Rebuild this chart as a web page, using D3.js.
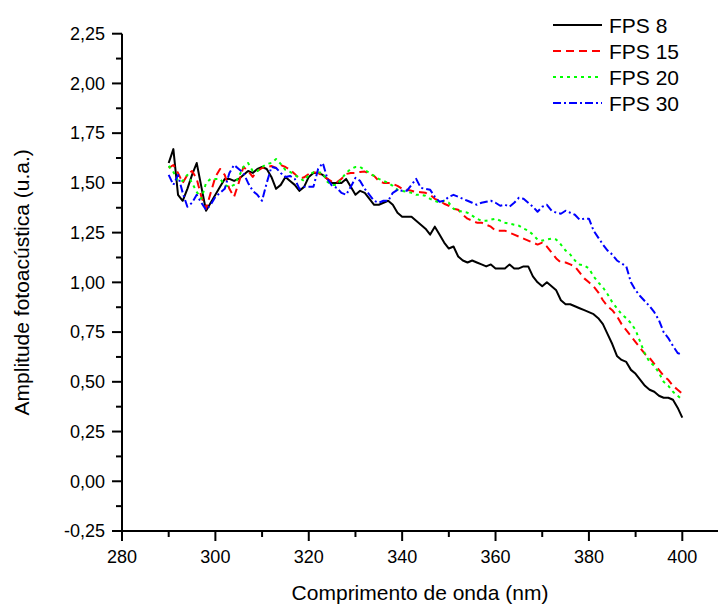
<!DOCTYPE html>
<html>
<head>
<meta charset="utf-8">
<script src="https://cdn.jsdelivr.net/npm/d3@7"></script>
<style>
  html, body { margin: 0; padding: 0; background: #fff; }
  svg { display: block; font-family: "Liberation Sans", Arial, sans-serif; }
</style>
</head>
<body>
<svg id="chart" width="718" height="608"></svg>
<script>
// wavelengths 290..400 nm, one value per nm
const wavelengths = d3.range(290, 401);

const fps8 = [
  1.60, 1.67, 1.44, 1.41, 1.47, 1.54, 1.60, 1.48, 1.36, 1.40,
  1.44, 1.48, 1.52, 1.52, 1.51, 1.52, 1.54, 1.56, 1.55, 1.57,
  1.58, 1.57, 1.53, 1.47, 1.49, 1.53, 1.51, 1.49, 1.46, 1.48,
  1.53, 1.55, 1.55, 1.54, 1.52, 1.50, 1.50, 1.50, 1.52, 1.48,
  1.44, 1.46, 1.45, 1.42, 1.39, 1.39, 1.40, 1.41, 1.39, 1.35,
  1.33, 1.33, 1.33, 1.31, 1.29, 1.27, 1.24, 1.28, 1.24, 1.20,
  1.17, 1.18, 1.13, 1.11, 1.10, 1.11, 1.10, 1.09, 1.08, 1.09,
  1.07, 1.07, 1.07, 1.09, 1.07, 1.07, 1.08, 1.08, 1.03, 1.00,
  0.98, 1.00, 0.98, 0.96, 0.91, 0.89, 0.89, 0.88, 0.87, 0.86,
  0.85, 0.84, 0.82, 0.79, 0.74, 0.69, 0.63, 0.61, 0.60, 0.56,
  0.54, 0.51, 0.48, 0.46, 0.45, 0.43, 0.42, 0.42, 0.41, 0.37,
  0.32
];

const fps15 = [
  1.575, 1.59, 1.55, 1.50, 1.54, 1.56, 1.52, 1.43, 1.37, 1.45,
  1.53, 1.57, 1.54, 1.47, 1.43, 1.50, 1.58, 1.56, 1.53, 1.56,
  1.575, 1.58, 1.585, 1.575, 1.59, 1.58, 1.565, 1.545, 1.52, 1.528,
  1.545, 1.553, 1.55, 1.535, 1.52, 1.505, 1.503, 1.52, 1.545, 1.55,
  1.55, 1.555, 1.557, 1.545, 1.535, 1.51, 1.50, 1.50, 1.495, 1.485,
  1.47, 1.465, 1.46, 1.455, 1.453, 1.45, 1.44, 1.42, 1.41, 1.395,
  1.385, 1.37, 1.365, 1.34, 1.32, 1.31, 1.30, 1.30, 1.29, 1.28,
  1.26, 1.26, 1.26, 1.25, 1.24, 1.23, 1.22, 1.21, 1.20, 1.19,
  1.20, 1.18, 1.15, 1.12, 1.10, 1.10, 1.09, 1.08, 1.05, 1.02,
  1.00, 0.98, 0.95, 0.91, 0.88, 0.86, 0.83, 0.79, 0.76, 0.73,
  0.70, 0.67, 0.64, 0.62, 0.59, 0.56, 0.53, 0.51, 0.48, 0.46,
  0.44
];

const fps20 = [
  1.585, 1.555, 1.51, 1.51, 1.54, 1.50, 1.455, 1.42, 1.50, 1.52,
  1.52, 1.52, 1.49, 1.48, 1.49, 1.53, 1.58, 1.60, 1.56, 1.56,
  1.58, 1.595, 1.60, 1.62, 1.595, 1.565, 1.555, 1.54, 1.525, 1.51,
  1.54, 1.553, 1.553, 1.55, 1.505, 1.49, 1.49, 1.52, 1.55, 1.57,
  1.58, 1.58, 1.565, 1.55, 1.535, 1.52, 1.51, 1.50, 1.485, 1.465,
  1.46, 1.455, 1.45, 1.44, 1.44, 1.435, 1.42, 1.41, 1.40, 1.41,
  1.40, 1.37, 1.36, 1.355, 1.35, 1.335, 1.32, 1.31, 1.31, 1.315,
  1.32, 1.31, 1.30, 1.295, 1.29, 1.285, 1.27, 1.26, 1.24, 1.215,
  1.21, 1.215, 1.22, 1.215, 1.19, 1.16, 1.14, 1.11, 1.09, 1.085,
  1.07, 1.03, 1.00, 0.975, 0.94, 0.90, 0.87, 0.84, 0.82, 0.795,
  0.76, 0.70, 0.64, 0.60, 0.58, 0.545, 0.50, 0.48, 0.45, 0.43,
  0.41
];

const fps30 = [
  1.54, 1.49, 1.54, 1.45, 1.38, 1.40, 1.44, 1.40, 1.365, 1.39,
  1.43, 1.45, 1.47, 1.55, 1.59, 1.57, 1.55, 1.50, 1.46, 1.44,
  1.41, 1.50, 1.58, 1.575, 1.55, 1.53, 1.535, 1.52, 1.47, 1.48,
  1.48, 1.48, 1.57, 1.60, 1.52, 1.485, 1.475, 1.45, 1.44, 1.48,
  1.525, 1.51, 1.47, 1.44, 1.41, 1.40, 1.41, 1.41, 1.45, 1.465,
  1.46, 1.46, 1.49, 1.52, 1.475, 1.47, 1.465, 1.43, 1.405, 1.41,
  1.43, 1.44, 1.43, 1.42, 1.41, 1.40, 1.39, 1.40, 1.405, 1.41,
  1.40, 1.385, 1.39, 1.38, 1.40, 1.425, 1.42, 1.40, 1.38, 1.355,
  1.38, 1.39, 1.36, 1.35, 1.345, 1.36, 1.35, 1.34, 1.315, 1.32,
  1.32, 1.26, 1.225, 1.19, 1.16, 1.14, 1.11, 1.095, 1.08, 1.00,
  0.96, 0.93, 0.905, 0.88, 0.85, 0.81, 0.75, 0.72, 0.68, 0.645,
  0.635
];

const seriesNames = ["FPS 8", "FPS 15", "FPS 20", "FPS 30"];
const seriesValues = [fps8, fps15, fps20, fps30];
const seriesColors = ["#000000", "#ff0000", "#00ff00", "#0000ff"];
const seriesDashes = [null, "8,5", "3,4", "8,3,2,3"];

const xMajorTicks = [280, 300, 320, 340, 360, 380, 400];
const xMinorTicks = [290, 310, 330, 350, 370, 390];
const yMajorTicks = [-0.25, 0, 0.25, 0.5, 0.75, 1, 1.25, 1.5, 1.75, 2, 2.25];
const yMinorTicks = [-0.125, 0.125, 0.375, 0.625, 0.875, 1.125, 1.375, 1.625, 1.875, 2.125];

const svg = d3.select("#chart");
const W = 718, H = 608;

const x = d3.scaleLinear().domain([280, 400]).range([122, 682.3]);
const y = d3.scaleLinear().domain([-0.25, 2.25]).range([531, 33.7]);
const fmt = v => d3.format(".2f")(v).replace(".", ",").replace("−", "-");

// eixo x
const gx = svg.append("g").attr("transform", `translate(0,${y(-0.25)})`);
gx.append("line")
  .attr("x1", x(280) - 1).attr("x2", W)
  .attr("stroke", "#000").attr("stroke-width", 2);
gx.selectAll("line.major").data(xMajorTicks).enter().append("line")
  .attr("x1", d => x(d)).attr("x2", d => x(d))
  .attr("y1", 0).attr("y2", 10)
  .attr("stroke", "#000").attr("stroke-width", 2);
gx.selectAll("line.minor").data(xMinorTicks).enter().append("line")
  .attr("x1", d => x(d)).attr("x2", d => x(d))
  .attr("y1", 0).attr("y2", 6)
  .attr("stroke", "#000").attr("stroke-width", 2);
gx.selectAll("text").data(xMajorTicks).enter().append("text")
  .attr("x", d => x(d)).attr("y", 32)
  .attr("text-anchor", "middle")
  .attr("font-size", 18)
  .text(d => d);

// eixo y
const gy = svg.append("g").attr("transform", `translate(${x(280)},0)`);
gy.append("line")
  .attr("y1", y(2.25)).attr("y2", y(-0.25) + 1)
  .attr("stroke", "#000").attr("stroke-width", 2);
gy.selectAll("line.major").data(yMajorTicks).enter().append("line")
  .attr("x1", -10).attr("x2", 0)
  .attr("y1", d => y(d)).attr("y2", d => y(d))
  .attr("stroke", "#000").attr("stroke-width", 2);
gy.selectAll("line.minor").data(yMinorTicks).enter().append("line")
  .attr("x1", -6).attr("x2", 0)
  .attr("y1", d => y(d)).attr("y2", d => y(d))
  .attr("stroke", "#000").attr("stroke-width", 2);
gy.selectAll("text").data(yMajorTicks).enter().append("text")
  .attr("x", -17).attr("y", d => y(d))
  .attr("dy", "0.35em")
  .attr("text-anchor", "end")
  .attr("font-size", 18)
  .text(d => fmt(d));

// títulos
svg.append("text")
  .attr("x", 420).attr("y", 600)
  .attr("text-anchor", "middle")
  .attr("font-size", 21)
  .text("Comprimento de onda (nm)");
svg.append("text")
  .attr("transform", `translate(29,${(y(2.25) + y(-0.25)) / 2}) rotate(-90)`)
  .attr("text-anchor", "middle")
  .attr("font-size", 21)
  .text("Amplitude fotoacústica (u.a.)");

// curvas
const line = d3.line()
  .x((d, i) => x(wavelengths[i]))
  .y(d => y(d));

seriesValues.forEach((vals, k) => {
  svg.append("path")
    .datum(vals)
    .attr("fill", "none")
    .attr("stroke", seriesColors[k])
    .attr("stroke-width", 2)
    .attr("stroke-linejoin", "round")
    .attr("stroke-dasharray", seriesDashes[k])
    .attr("d", line);
});

// legenda
const leg = svg.append("g");
seriesNames.forEach((name, k) => {
  const ly = 25 + k * 26;
  leg.append("line")
    .attr("x1", 553).attr("x2", 602)
    .attr("y1", ly).attr("y2", ly)
    .attr("stroke", seriesColors[k])
    .attr("stroke-width", 2)
    .attr("stroke-dasharray", seriesDashes[k]);
  leg.append("text")
    .attr("x", 609).attr("y", ly)
    .attr("dy", "0.36em")
    .attr("font-size", 21)
    .text(name);
});
</script>
</body>
</html>
